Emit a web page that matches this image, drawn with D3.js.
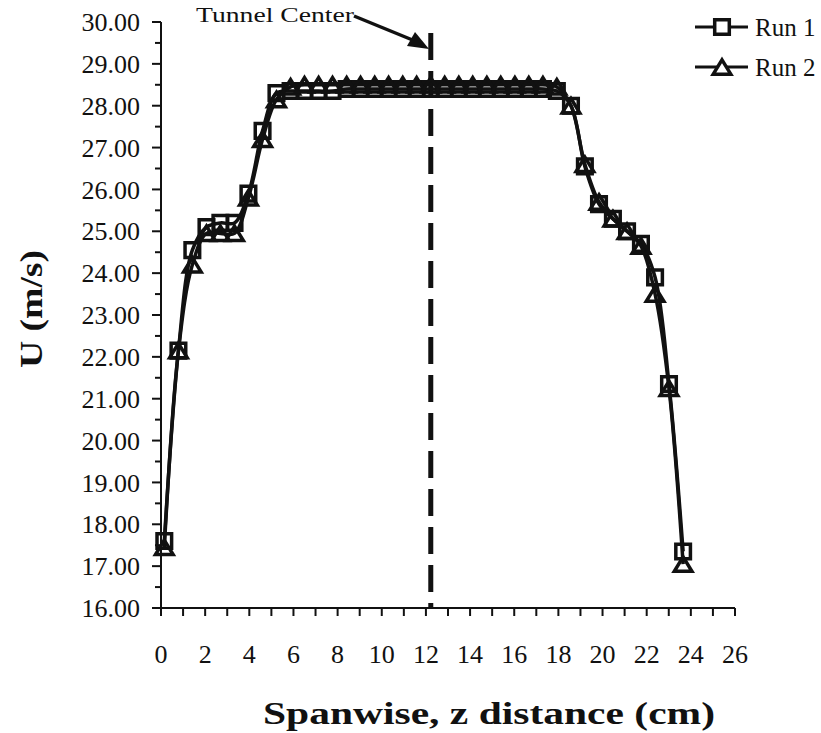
<!DOCTYPE html>
<html>
<head>
<meta charset="utf-8">
<script src="https://cdn.jsdelivr.net/npm/d3@7"></script>
<style>
  html, body { margin: 0; padding: 0; background: #fff; }
  svg { display: block; }
  text { font-family: "Liberation Serif", "Times New Roman", serif; fill: #111; }
</style>
</head>
<body>
<div id="chart"></div>
<script>
// ---- data ----
const zPos = [0.15, 0.79, 1.42, 2.06, 2.69, 3.33, 3.96, 4.60, 5.23, 5.87,
  6.50, 7.14, 7.77, 8.41, 9.04, 9.68, 10.31, 10.95, 11.58, 12.22,
  12.85, 13.49, 14.12, 14.76, 15.39, 16.03, 16.66, 17.30, 17.93, 18.57,
  19.20, 19.84, 20.47, 21.11, 21.74, 22.38, 23.01, 23.65];
const run1 = [17.6, 22.15, 24.55, 25.1, 25.2, 25.2, 25.9, 27.4, 28.3, 28.35,
  28.35, 28.35, 28.35, 28.4, 28.4, 28.4, 28.4, 28.4, 28.4, 28.4,
  28.4, 28.4, 28.4, 28.4, 28.4, 28.4, 28.4, 28.4, 28.35, 28.0,
  26.55, 25.65, 25.3, 25.0, 24.7, 23.9, 21.35, 17.35];
const run2 = [17.45, 22.15, 24.2, 24.95, 24.95, 24.95, 25.8, 27.2, 28.15, 28.45,
  28.5, 28.5, 28.5, 28.5, 28.5, 28.5, 28.5, 28.5, 28.5, 28.5,
  28.5, 28.5, 28.5, 28.5, 28.5, 28.5, 28.5, 28.5, 28.45, 28.0,
  26.6, 25.7, 25.3, 25.0, 24.65, 23.5, 21.25, 17.05];
const seriesNames = ["Run 1", "Run 2"];
const xTickLabels = [0, 2, 4, 6, 8, 10, 12, 14, 16, 18, 20, 22, 24, 26];
const yTickLabels = [16, 17, 18, 19, 20, 21, 22, 23, 24, 25, 26, 27, 28, 29, 30];
const tunnelCenter = 12.22;

const W = 821, H = 733;
const svg = d3.select("#chart").append("svg").attr("width", W).attr("height", H);
svg.append("rect").attr("width", W).attr("height", H).attr("fill", "#fff");

const x = d3.scaleLinear().domain([0, 26]).range([161, 735]);
const y = d3.scaleLinear().domain([16, 30]).range([608, 22]);

// ---- axes ----
const yMinor = d3.range(16, 30.001, 0.5).filter(v => Math.abs(v - Math.round(v)) > 0.01);
const yAxis = svg.append("g").attr("transform", `translate(${x(0)},0)`);
yAxis.append("line").attr("x1", 0).attr("x2", 0).attr("y1", y(30)).attr("y2", y(16))
  .attr("stroke", "#111").attr("stroke-width", 2);
yAxis.selectAll(".maj").data(yTickLabels).enter().append("line")
  .attr("x1", -9).attr("x2", 0).attr("y1", d => y(d)).attr("y2", d => y(d))
  .attr("stroke", "#111").attr("stroke-width", 2);
yAxis.selectAll(".min").data(yMinor).enter().append("line")
  .attr("x1", -6).attr("x2", 0).attr("y1", d => y(d)).attr("y2", d => y(d))
  .attr("stroke", "#111").attr("stroke-width", 2);
yAxis.selectAll(".lab").data(yTickLabels).enter().append("text")
  .attr("x", -21).attr("y", d => y(d)).attr("dy", "0.35em")
  .attr("text-anchor", "end").attr("font-size", 26)
  .text(d => d3.format(".2f")(d));

const xTicks = d3.range(0, 27, 1);
const xAxis = svg.append("g").attr("transform", `translate(0,${y(16)})`);
xAxis.append("line").attr("x1", x(0) - 9).attr("x2", x(26)).attr("y1", 0).attr("y2", 0)
  .attr("stroke", "#111").attr("stroke-width", 2);
xAxis.selectAll(".tk").data(xTicks).enter().append("line")
  .attr("x1", d => x(d)).attr("x2", d => x(d)).attr("y1", 0).attr("y2", 8)
  .attr("stroke", "#111").attr("stroke-width", 2);
xAxis.selectAll(".lab").data(xTickLabels).enter().append("text")
  .attr("x", d => x(d)).attr("y", 46).attr("dy", "0.35em")
  .attr("text-anchor", "middle").attr("font-size", 26)
  .text(d => d);

// axis titles
svg.append("text").attr("x", 489).attr("y", 724).attr("text-anchor", "middle")
  .attr("font-size", 32).attr("font-weight", "bold")
  .attr("textLength", 452).attr("lengthAdjust", "spacingAndGlyphs")
  .text("Spanwise, z distance (cm)");
svg.append("text").attr("transform", "translate(42,309) rotate(-90)")
  .attr("text-anchor", "middle").attr("font-size", 32).attr("font-weight", "bold")
  .attr("textLength", 118).attr("lengthAdjust", "spacingAndGlyphs")
  .text("U (m/s)");

// ---- tunnel center dashed line ----
svg.append("line").attr("x1", x(tunnelCenter)).attr("x2", x(tunnelCenter))
  .attr("y1", 33).attr("y2", y(16))
  .attr("stroke", "#111").attr("stroke-width", 5).attr("stroke-dasharray", "27,11");

// annotation
svg.append("text").attr("x", 354).attr("y", 22).attr("text-anchor", "end")
  .attr("font-size", 20).attr("textLength", 158).attr("lengthAdjust", "spacingAndGlyphs")
  .text("Tunnel Center");
svg.append("line").attr("x1", 354).attr("y1", 16).attr("x2", 415).attr("y2", 41)
  .attr("stroke", "#111").attr("stroke-width", 3.5);
svg.append("path").attr("d", "M429,49 L407,46 L415,32 Z").attr("fill", "#111");

// ---- series ----
const line = d3.line().x(d => x(d[0])).y(d => y(d[1])).curve(d3.curveCatmullRom.alpha(0.5));
const pts1 = zPos.map((z, i) => [z, run1[i]]);
const pts2 = zPos.map((z, i) => [z, run2[i]]);

function squarePath(cx, cy) {
  const s = 7.3;
  return `M${cx - s},${cy - s}h${2 * s}v${2 * s}h${-2 * s}Z`;
}
function triPath(cx, cy) {
  const hw = 8.8, hh = 7.2;
  return `M${cx},${cy - hh}L${cx + hw},${cy + hh}L${cx - hw},${cy + hh}Z`;
}

const g = svg.append("g");
[[pts1, squarePath], [pts2, triPath]].forEach(([pts, shape]) => {
  g.append("path").datum(pts).attr("d", line)
    .attr("fill", "none").attr("stroke", "#111").attr("stroke-width", 3.5);
  g.selectAll(null).data(pts).enter().append("path")
    .attr("d", d => shape(x(d[0]), y(d[1])))
    .attr("fill", "none").attr("stroke", "#111").attr("stroke-width", 3.5)
    .attr("stroke-linejoin", "miter");
});

// ---- legend ----
const legY = [27, 67];
const leg = svg.append("g");
seriesNames.forEach((name, i) => {
  const ly = legY[i];
  leg.append("line").attr("x1", 695).attr("x2", 748).attr("y1", ly).attr("y2", ly)
    .attr("stroke", "#111").attr("stroke-width", 3);
  leg.append("path").attr("d", i === 0 ? squarePath(722, ly) : triPath(722, ly))
    .attr("fill", "#fff").attr("stroke", "#111").attr("stroke-width", 3.5);
  leg.append("text").attr("x", 755).attr("y", ly).attr("dy", "0.35em")
    .attr("font-size", 25).text(name);
});
</script>
</body>
</html>
